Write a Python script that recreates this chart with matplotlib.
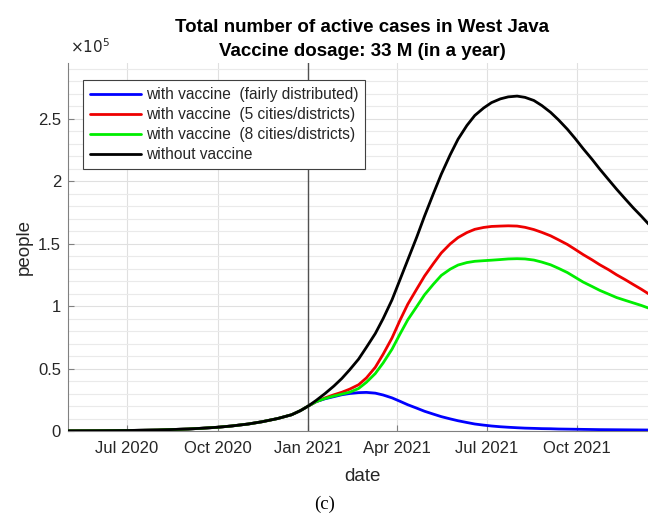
import matplotlib
matplotlib.use("Agg")
import matplotlib.pyplot as plt
import matplotlib.dates as mdates
from matplotlib.ticker import FuncFormatter, MultipleLocator
import numpy as np
import datetime as dt

plt.rcParams['font.family'] = ['Liberation Sans', 'DejaVu Sans']

# shared part (before vaccination starts), values in units of 1e5 people
dates_2020 = ["2020-05-02", "2020-06-01", "2020-07-01", "2020-08-01", "2020-09-01",
              "2020-09-15", "2020-10-01", "2020-10-15", "2020-11-01", "2020-11-15",
              "2020-12-01", "2020-12-15", "2020-12-24"]
active_2020 = [0.001, 0.002, 0.004, 0.008, 0.016,
               0.022, 0.030, 0.040, 0.056, 0.074,
               0.100, 0.130, 0.163]

dates_2021 = ["2021-01-01", "2021-01-09", "2021-01-18", "2021-01-27", "2021-02-04",
              "2021-02-12", "2021-02-21", "2021-03-01", "2021-03-10", "2021-03-18",
              "2021-03-27", "2021-04-04", "2021-04-12", "2021-04-21", "2021-04-29",
              "2021-05-08", "2021-05-16", "2021-05-25", "2021-06-02", "2021-06-11",
              "2021-06-19", "2021-06-28", "2021-07-06", "2021-07-15", "2021-07-23",
              "2021-08-01", "2021-08-09", "2021-08-18", "2021-08-26", "2021-09-04",
              "2021-09-12", "2021-09-21", "2021-09-29", "2021-10-07", "2021-10-16",
              "2021-10-24", "2021-11-02", "2021-11-10", "2021-11-19", "2021-11-27",
              "2021-12-05", "2021-12-12", "2021-12-20"]

without_vaccine = [0.20, 0.245, 0.30, 0.36, 0.42, 0.49, 0.575, 0.67, 0.78, 0.90,
                   1.05, 1.21, 1.37, 1.55, 1.72, 1.90, 2.055, 2.21, 2.335, 2.445,
                   2.525, 2.585, 2.628, 2.658, 2.674, 2.68, 2.67, 2.645, 2.605, 2.55,
                   2.49, 2.415, 2.34, 2.26, 2.175, 2.095, 2.01, 1.935, 1.855, 1.785,
                   1.72, 1.66, 1.60]
vac_5_cities = [0.20, 0.235, 0.265, 0.29, 0.31, 0.335, 0.37, 0.425, 0.51, 0.615,
                0.745, 0.885, 1.015, 1.135, 1.24, 1.34, 1.425, 1.497, 1.548, 1.588,
                1.614, 1.629, 1.637, 1.64, 1.642, 1.64, 1.63, 1.612, 1.59, 1.562,
                1.53, 1.493, 1.453, 1.412, 1.37, 1.33, 1.29, 1.25, 1.21, 1.172,
                1.135, 1.10, 1.065]
vac_8_cities = [0.20, 0.235, 0.26, 0.28, 0.295, 0.31, 0.34, 0.39, 0.46, 0.545,
                0.655, 0.775, 0.89, 0.995, 1.09, 1.175, 1.245, 1.295, 1.328, 1.348,
                1.358, 1.363, 1.367, 1.372, 1.377, 1.379, 1.377, 1.368, 1.352, 1.33,
                1.302, 1.268, 1.23, 1.192, 1.157, 1.125, 1.095, 1.068, 1.045, 1.025,
                1.005, 0.985, 0.965]
vac_fair = [0.20, 0.235, 0.258, 0.275, 0.29, 0.30, 0.307, 0.309, 0.303, 0.288,
            0.265, 0.238, 0.21, 0.183, 0.158, 0.135, 0.115, 0.097, 0.082, 0.068,
            0.056, 0.047, 0.040, 0.034, 0.030, 0.026, 0.023, 0.021, 0.019, 0.018,
            0.016, 0.015, 0.014, 0.013, 0.012, 0.011, 0.0105, 0.010, 0.0095, 0.009,
            0.0085, 0.008, 0.0075]

labels = ["with vaccine  (fairly distributed)",
          "with vaccine  (5 cities/districts)",
          "with vaccine  (8 cities/districts)",
          "without vaccine"]
colors = ["#0000ff", "#ee0000", "#00ee00", "#000000"]
series = [vac_fair, vac_5_cities, vac_8_cities, without_vaccine]

to_dt = lambda d: dt.datetime.strptime(d, "%Y-%m-%d")
x = [to_dt(d) for d in dates_2020 + dates_2021]
scale = 1e5

fig = plt.figure(figsize=(6.48, 5.19), dpi=100)
ax = fig.add_axes([68/648, 88/519, (656-68)/648, (431-63)/519])

for vals, c, lab in zip(series, colors, labels):
    y = np.array(active_2020 + vals) * scale
    ax.plot(x, y, color=c, lw=2.0, label=lab, zorder=3,
            solid_joinstyle="round", solid_capstyle="round")

vline_date = dt.datetime(2021, 1, 1)
ax.axvline(vline_date, color="#505050", lw=1.0, zorder=2)

ax.set_xlim(dt.datetime(2020, 5, 2), dt.datetime(2021, 12, 20))
ax.set_ylim(0, 2.945e5)

ax.xaxis.set_major_locator(mdates.MonthLocator(bymonth=[1, 4, 7, 10]))
ax.xaxis.set_major_formatter(mdates.DateFormatter("%b %Y"))
ax.yaxis.set_major_locator(MultipleLocator(0.5e5))
ax.yaxis.set_minor_locator(MultipleLocator(0.1e5))
ax.yaxis.set_major_formatter(FuncFormatter(lambda v, p: f"{v/1e5:g}"))

ax.grid(True, which="major", color="#e0e0e0", lw=0.8, zorder=0)
ax.grid(True, which="minor", axis="y", color="#eaeaea", lw=0.8, zorder=0)
ax.set_axisbelow(True)

for s in ["top", "right"]:
    ax.spines[s].set_visible(False)
for s in ["left", "bottom"]:
    ax.spines[s].set_color("#808080")
    ax.spines[s].set_linewidth(0.8)

ax.tick_params(axis="both", which="major", direction="in", length=4,
               color="#808080", labelcolor="#262626", labelsize=12)
ax.tick_params(axis="x", which="major", pad=7)
ax.tick_params(axis="y", which="major", pad=5)
ax.tick_params(axis="both", which="minor", length=0)

ax.set_xlabel("date", fontsize=13.5, color="#262626", labelpad=9)
ax.set_ylabel("people", fontsize=13.5, color="#262626", labelpad=4)

fig.text(70/648, 1 - 47/519, r"$\times10^5$", fontsize=11, color="#262626",
         va="center", ha="left")

fig.text(362/648, 1 - 28/519, "Total number of active cases in West Java",
         fontsize=13.5, fontweight="bold", ha="center", va="center")
fig.text(362/648, 1 - 51/519, "Vaccine dosage: 33 M (in a year)",
         fontsize=13.5, fontweight="bold", ha="center", va="center")

leg = ax.legend(loc="upper left", bbox_to_anchor=((83-68)/588, 1 - (80-63)/368),
                fontsize=11.2, frameon=True, fancybox=False, handlelength=3.3,
                handletextpad=0.3, borderpad=0.45, labelspacing=0.33,
                borderaxespad=0)
leg.get_frame().set_edgecolor("#404040")
leg.get_frame().set_linewidth(0.8)
leg.get_frame().set_alpha(1)
for t in leg.get_texts():
    t.set_color("#262626")

fig.text(325/648, 1 - 504/519, "(c)", fontsize=13.5,
         family=["Liberation Serif", "DejaVu Serif"], ha="center", va="center")

fig.savefig("out.png", dpi=100)
